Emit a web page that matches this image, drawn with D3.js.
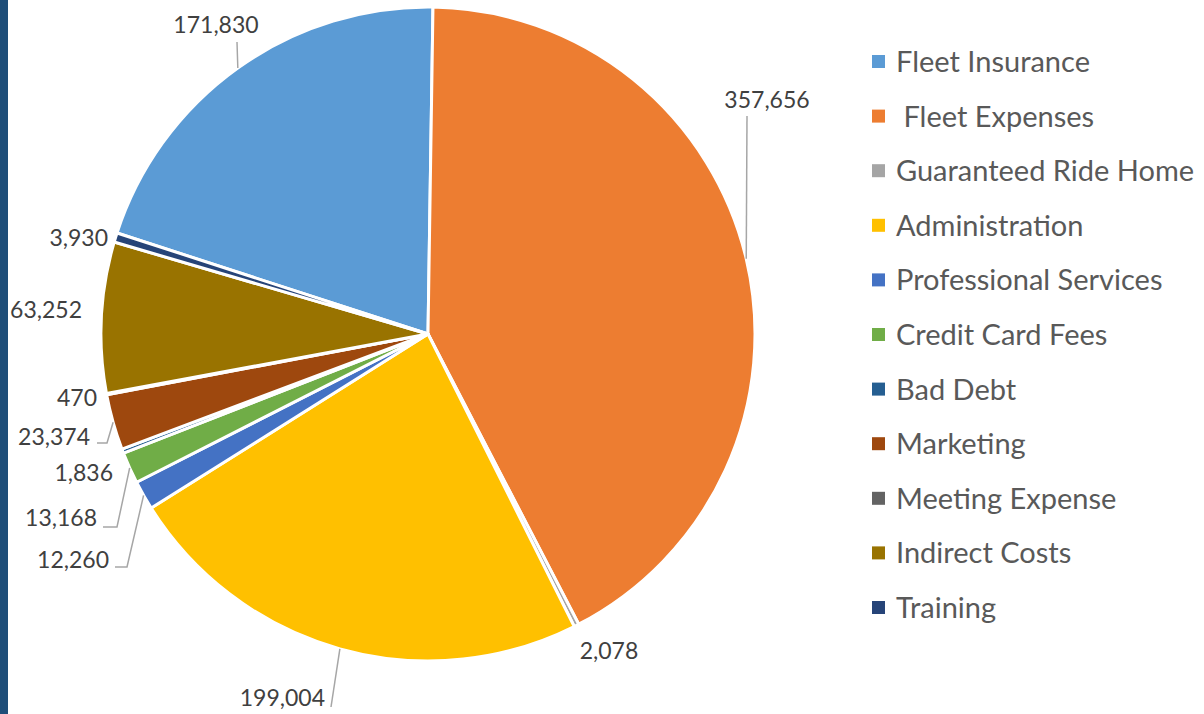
<!DOCTYPE html>
<html>
<head>
<meta charset="utf-8">
<script src="https://cdn.jsdelivr.net/npm/d3@7"></script>
<style>
  html, body { margin: 0; padding: 0; background: #fff; }
  svg { display: block; }
  text { font-family: Lato, "Open Sans", sans-serif; white-space: pre; }
</style>
</head>
<body>
<svg id="chart" width="1204" height="714"></svg>
<script>
// ---- data ----
const categories = ["Fleet Insurance", " Fleet Expenses", "Guaranteed Ride Home", "Administration",
  "Professional Services", "Credit Card Fees", "Bad Debt", "Marketing", "Meeting Expense",
  "Indirect Costs", "Training"];
const values = [171830, 357656, 2078, 199004, 12260, 13168, 1836, 23374, 470, 63252, 3930];
const colors = ["#5B9BD5", "#ED7D31", "#A5A5A5", "#FFC000", "#4472C4", "#70AD47",
  "#255E91", "#9E480E", "#636363", "#997300", "#264478"];

// ---- label layout (text position, anchor, optional leader elbow points) ----
const labelLayout = [
  { x: 216, y: 25,  anchor: "middle", leader: [[237, 42]] },
  { x: 767, y: 100, anchor: "middle", leader: [[747, 116]] },
  { x: 609, y: 651, anchor: "middle", leader: null },
  { x: 325, y: 698, anchor: "end",    leader: [[331, 707]] },
  { x: 109, y: 560, anchor: "end",    leader: [[115, 567], [127, 567]] },
  { x: 97,  y: 518, anchor: "end",    leader: [[103, 527], [117, 527]] },
  { x: 113, y: 473, anchor: "end",    leader: null },
  { x: 90,  y: 437, anchor: "end",    leader: [[97, 443], [107, 443]] },
  { x: 97,  y: 398, anchor: "end",    leader: null },
  { x: 82,  y: 310, anchor: "end",    leader: null },
  { x: 108, y: 238, anchor: "end",    leader: null }
];

const svg = d3.select("#chart");
const W = 1204, H = 714;
const cx = 428, cy = 334, R = 327;

// left accent bar
svg.append("rect").attr("x", 0).attr("y", 0).attr("width", 8).attr("height", H).attr("fill", "#1F4E79");

const data = categories.map((c, i) => ({ name: c, value: values[i], color: colors[i], i }));

const startA = 288 * Math.PI / 180;
const pie = d3.pie().sort(null).value(d => d.value).startAngle(startA).endAngle(startA + 2 * Math.PI);
const arcs = pie(data);
const arc = d3.arc().innerRadius(0).outerRadius(R);

const g = svg.append("g").attr("transform", `translate(${cx},${cy})`);
g.selectAll("path.slice").data(arcs).enter().append("path")
  .attr("class", "slice")
  .attr("d", arc)
  .attr("fill", d => d.data.color)
  .attr("stroke", "#fff")
  .attr("stroke-width", 3)
  .attr("stroke-linejoin", "round");

const fmt = d3.format(",");

// leader lines
arcs.forEach((a, i) => {
  const L = labelLayout[i];
  if (!L.leader) return;
  const mid = (a.startAngle + a.endAngle) / 2;
  const px = cx + R * Math.sin(mid), py = cy - R * Math.cos(mid);
  const pts = L.leader.concat([[px, py]]);
  svg.append("path")
    .attr("d", d3.line()(pts))
    .attr("fill", "none")
    .attr("stroke", "#A6A6A6")
    .attr("stroke-width", 1.5);
});

// data labels
arcs.forEach((a, i) => {
  const L = labelLayout[i];
  svg.append("text")
    .attr("x", L.x).attr("y", L.y).attr("dy", "0.36em")
    .attr("text-anchor", L.anchor)
    .attr("font-size", 23)
    .attr("fill", "#404040")
    .text(fmt(a.data.value));
});

// legend
const legendX = 872, legendY0 = 61.5, legendStep = 54.6;
const leg = svg.append("g");
data.forEach((d, i) => {
  const y = legendY0 + i * legendStep;
  leg.append("rect").attr("x", legendX).attr("y", y - 6.5).attr("width", 13).attr("height", 13).attr("fill", d.color);
  leg.append("text").attr("x", 896).attr("y", y).attr("dy", "0.36em")
    .attr("font-size", 29).attr("fill", "#595959").text(d.name);
});
</script>
</body>
</html>
